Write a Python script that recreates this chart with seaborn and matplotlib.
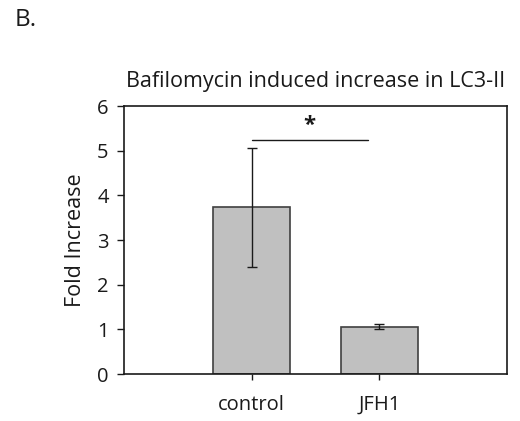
import matplotlib
matplotlib.use("Agg")
import matplotlib.pyplot as plt
import seaborn as sns
import numpy as np
import pandas as pd

categories = ["control", "JFH1"]
fold_increase = [3.73, 1.06]
errors = [1.34, 0.05]
yticks = [0, 1, 2, 3, 4, 5, 6]
title = "Bafilomycin induced increase in LC3-II"
ylabel = "Fold Increase"
panel_label = "B."
sig_label = "*"
sig_height = 5.25

sns.set_theme(style="white")
plt.rcParams['font.family'] = ['Open Sans', 'DejaVu Sans']

df = pd.DataFrame({"group": categories, "value": fold_increase})

fig = plt.figure(figsize=(5.2, 4.21), dpi=100)
ax = fig.add_axes([124/520, 1-374/421, (507-124)/520, (374-106)/421])

sns.barplot(data=df, x="group", y="value", order=categories, color="#c0c0c0",
            edgecolor="#404040", linewidth=1.2, width=0.6, errorbar=None,
            saturation=1, ax=ax)
pos = np.arange(len(categories))
ax.errorbar(pos, fold_increase, yerr=errors, fmt="none", ecolor="#1a1a1a",
            elinewidth=1, capsize=3.5, capthick=1)

ax.set_xlim(-1, 2)
ax.set_ylim(0, 6)
ax.set_yticks(yticks)
ax.set_yticklabels([str(t) for t in yticks])
ax.set_xticks(pos)
ax.set_xticklabels(categories)
ax.set_xlabel("")
ax.set_ylabel(ylabel, fontsize=15.5, color="#1a1a1a", labelpad=8)
ax.set_title(title, fontsize=15.5, color="#1a1a1a", pad=14)

for s in ax.spines.values():
    s.set_visible(True)
    s.set_color("#1a1a1a")
    s.set_linewidth(1.2)

ax.tick_params(axis="y", direction="out", length=5, width=1, color="#1a1a1a",
               labelsize=14.5, labelcolor="#1a1a1a", pad=6, left=True)
ax.tick_params(axis="x", direction="out", length=4, width=1, color="#1a1a1a",
               labelsize=14.5, labelcolor="#1a1a1a", pad=11, bottom=True)

# significance bar
ax.plot([pos[0], pos[1] - 0.09], [sig_height, sig_height], color="#1a1a1a", lw=1)
ax.text((pos[0] + pos[1] - 0.09) / 2, sig_height + 0.07, sig_label, ha="center",
        va="bottom", fontsize=16, fontweight="bold", color="#1a1a1a")

fig.text(15/520, 1-26/421, panel_label, fontsize=17.5, color="#1a1a1a", va="baseline")

fig.savefig("out.png", dpi=100)
